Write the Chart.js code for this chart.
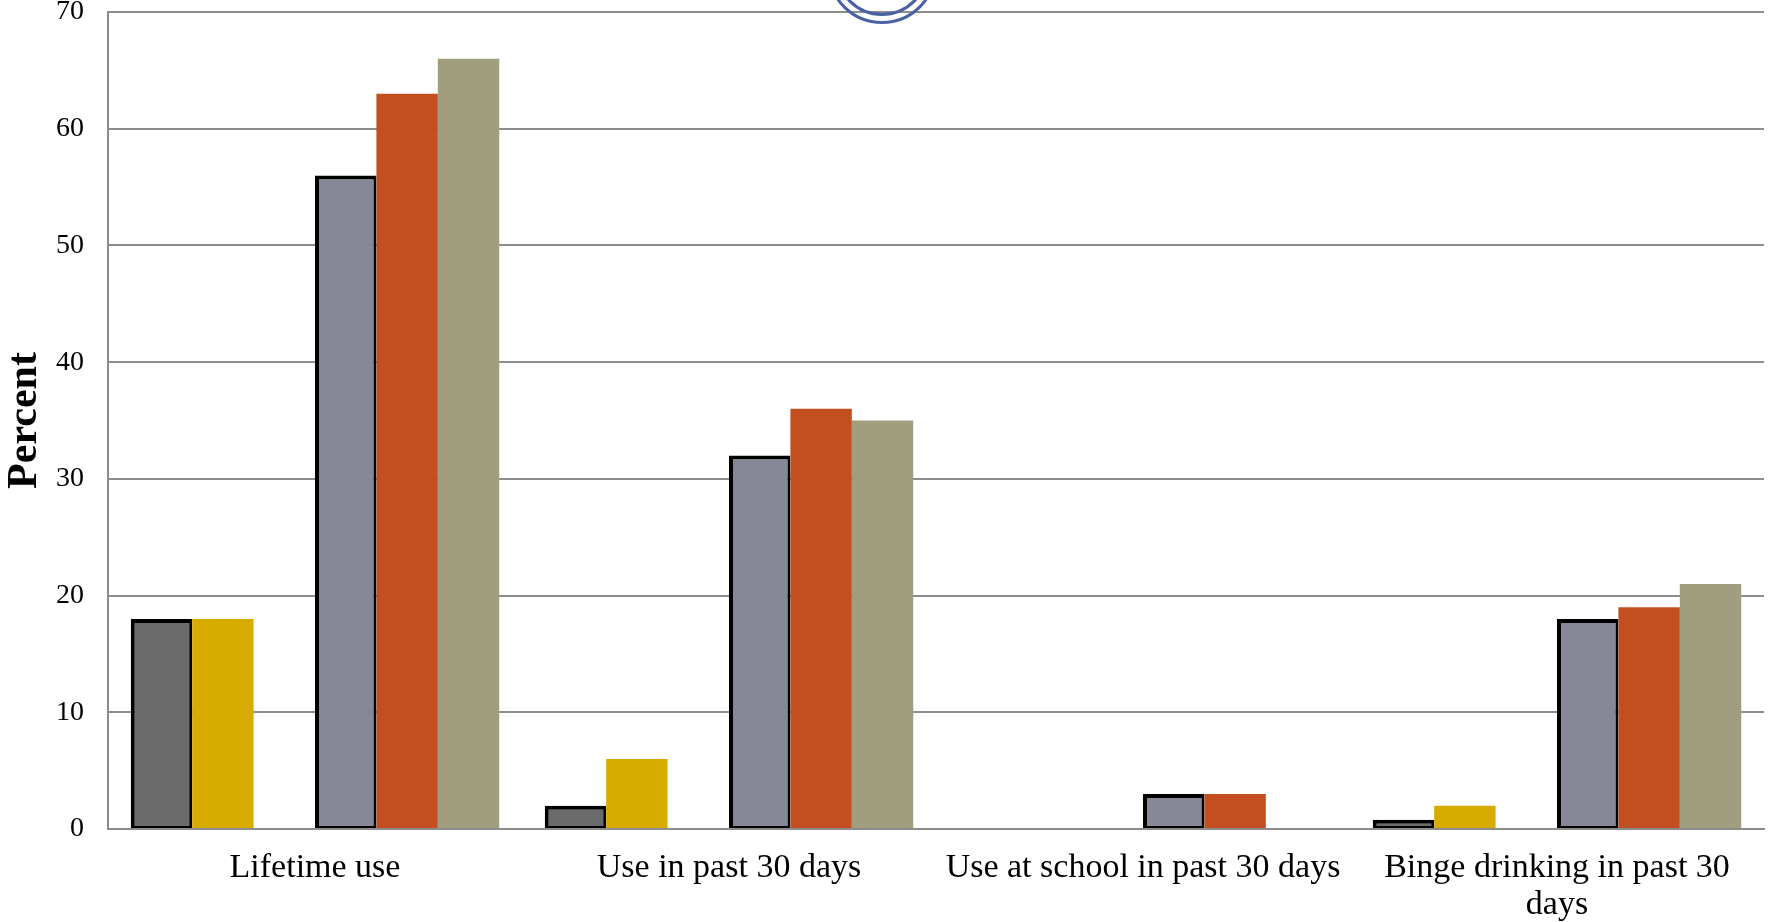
<!DOCTYPE html>
<html>
<head>
<meta charset="utf-8">
<script src="https://cdn.jsdelivr.net/npm/chart.js@4/dist/chart.umd.min.js"></script>
<style>
  body { margin: 0; background: #fff; }
  #wrap { position: relative; width: 1779px; height: 922px; }
  #logo { position: absolute; left: 0; top: 0; pointer-events: none; }
</style>
</head>
<body>
<div id="wrap">
  <canvas id="chart" width="1779" height="922"></canvas>
  <svg id="logo" width="1779" height="60">
    <circle cx="882" cy="-31" r="53.5" fill="none" stroke="#4a62a3" stroke-width="3"/>
    <circle cx="882" cy="-31" r="45.5" fill="none" stroke="#4a62a3" stroke-width="3"/>
  </svg>
</div>
<script>
// categories and values
const categories = ['Lifetime use', 'Use in past 30 days', 'Use at school in past 30 days', ['Binge drinking in past 30', 'days']];
const series1 = [18, 2, null, 0.8];
const series2 = [18, 6, null, 2];
const series3 = [null, null, null, null]; // empty slot in every group
const series4 = [56, 32, 3, 18];
const series5 = [63, 36, 3, 19];
const series6 = [66, 35, null, 21];
const yTicks = [0, 10, 20, 30, 40, 50, 60, 70];

const serif = 'Liberation Serif';
const edge = { top: 4, left: 4, right: 3, bottom: 2 };

function bar(label, data, color, outlined) {
    return {
        label: label,
        data: data,
        backgroundColor: color,
        borderColor: outlined ? '#000' : color,
        borderWidth: outlined ? edge : 0,
        borderSkipped: false,
        categoryPercentage: 0.89,
        barPercentage: 1.0
    };
}

new Chart(document.getElementById('chart'), {
    type: 'bar',
    data: {
        labels: categories,
        datasets: [
            bar('Series 1', series1, '#6b6b6b', true),
            bar('Series 2', series2, '#d8ab00', false),
            bar('Series 3', series3, '#ffffff', false),
            bar('Series 4', series4, '#868897', true),
            bar('Series 5', series5, '#c34f20', false),
            bar('Series 6', series6, '#a09e7f', false)
        ]
    },
    options: {
        responsive: false,
        animation: false,
        layout: { padding: { top: 12, right: 15, left: 0, bottom: 0 } },
        plugins: { legend: { display: false }, tooltip: { enabled: false } },
        scales: {
            x: {
                grid: { display: false, drawTicks: false },
                border: { color: '#8d8d8d', width: 2 },
                ticks: {
                    color: '#000',
                    padding: 20,
                    maxRotation: 0,
                    autoSkip: false,
                    font: { family: serif, size: 34, lineHeight: 1.1 }
                },
                afterFit: function(scale) {
                    scale.height = 93;
                    scale.paddingLeft = 0;
                    scale.paddingRight = 0;
                }
            },
            y: {
                min: 0,
                max: 70,
                afterBuildTicks: function(scale) {
                    scale.ticks = yTicks.map(function(v) { return { value: v }; });
                },
                grid: { color: '#8d8d8d', lineWidth: 2, drawTicks: false },
                border: { color: '#8d8d8d', width: 2 },
                ticks: {
                    color: '#000',
                    padding: 24,
                    font: { family: serif, size: 28 }
                },
                title: {
                    display: true,
                    text: 'Percent',
                    color: '#000',
                    padding: 0,
                    font: { family: serif, size: 42, weight: 'bold' }
                },
                afterFit: function(scale) {
                    scale.width = 108;
                    scale.paddingTop = 0;
                    scale.paddingBottom = 0;
                }
            }
        }
    }
});
</script>
</body>
</html>
